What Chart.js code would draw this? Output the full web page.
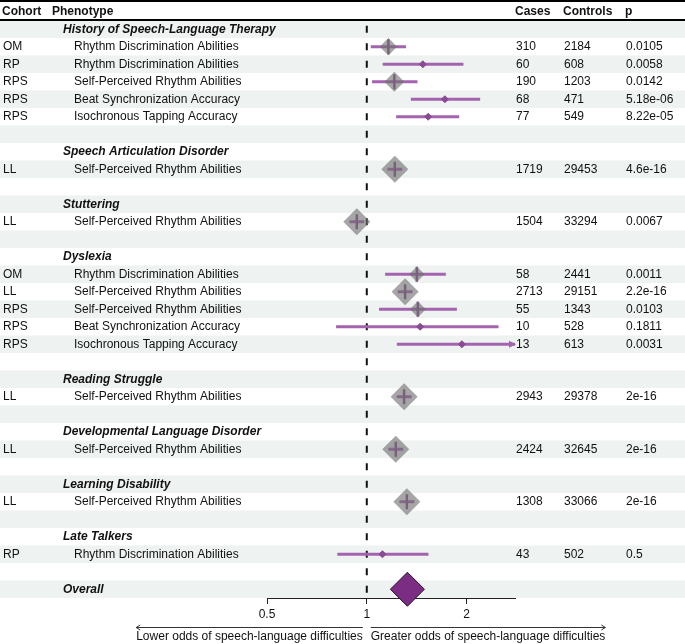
<!DOCTYPE html>
<html><head><meta charset="utf-8">
<script src="https://cdn.jsdelivr.net/npm/chart.js@4.4.1/dist/chart.umd.min.js"></script>
<style>html,body{margin:0;padding:0;background:#fff}canvas{display:block}</style>
</head><body>
<canvas id="c" width="685" height="644"></canvas>
<script>
// ---- data ----
const headers = ["Cohort", "Phenotype", "Cases", "Controls", "p"];
const cohorts = ["","OM","RP","RPS","RPS","RPS","","","LL","","","LL","","","OM","LL","RPS","RPS","RPS","","","LL","","","LL","","","LL","","","RP","",""];
const labels = ["History of Speech-Language Therapy","Rhythm Discrimination Abilities","Rhythm Discrimination Abilities","Self-Perceived Rhythm Abilities","Beat Synchronization Accuracy","Isochronous Tapping Accuracy","",
  "Speech Articulation Disorder","Self-Perceived Rhythm Abilities","",
  "Stuttering","Self-Perceived Rhythm Abilities","",
  "Dyslexia","Rhythm Discrimination Abilities","Self-Perceived Rhythm Abilities","Self-Perceived Rhythm Abilities","Beat Synchronization Accuracy","Isochronous Tapping Accuracy","",
  "Reading Struggle","Self-Perceived Rhythm Abilities","",
  "Developmental Language Disorder","Self-Perceived Rhythm Abilities","",
  "Learning Disability","Self-Perceived Rhythm Abilities","",
  "Late Talkers","Rhythm Discrimination Abilities","",
  "Overall"];
const oddsRatio = [null,1.162,1.476,1.211,1.72,1.532,null,null,1.215,null,null,0.933,null,null,1.416,1.305,1.426,1.449,1.936,null,null,1.296,null,null,1.223,null,null,1.321,null,null,1.115,null,null];
const ciLower   = [null,1.028,1.117,1.037,1.358,1.226,null,null,1.154,null,null,0.886,null,null,1.136,1.24,1.089,0.808,1.232,null,null,1.231,null,null,1.162,null,null,1.255,null,null,0.815,null,null];
const ciUpper   = [null,1.314,1.957,1.422,2.198,1.90,null,null,1.279,null,null,0.982,null,null,1.732,1.374,1.87,2.497,3.2,null,null,1.365,null,null,1.288,null,null,1.391,null,null,1.535,null,null];
const boxWeight = [null,0.64,0,0.74,0,0,null,null,1,null,null,1,null,null,0.57,1,0.59,0,0,null,null,1,null,null,1,null,null,1,null,null,0,null,null];
const cases     = [null,310,60,190,68,77,null,null,1719,null,null,1504,null,null,58,2713,55,10,13,null,null,2943,null,null,2424,null,null,1308,null,null,43,null,null];
const controls  = [null,2184,608,1203,471,549,null,null,29453,null,null,33294,null,null,2441,29151,1343,528,613,null,null,29378,null,null,32645,null,null,33066,null,null,502,null,null];
const pValues   = ["","0.0105","0.0058","0.0142","5.18e-06","8.22e-05","","","4.6e-16","","","0.0067","","","0.0011","2.2e-16","0.0103","0.1811","0.0031","","","2e-16","","","2e-16","","","2e-16","","","0.5","",""];
const overallOR = 1.326;
const overallRow = 32;
const tickValues = [0.5, 1, 2];
const tickLabels = ["0.5", "1", "2"];
const xMin = 0.5, xMax = 2.8;
const lowerLabel = "Lower odds of speech-language difficulties";
const upperLabel = "Greater odds of speech-language difficulties";

// ---- styles ----
const FONT = '"Liberation Sans", Arial, Helvetica, sans-serif';
const TXT = '#111';
const BAND = '#EEF2F1';
const CI_COLOR = '#A463AE';
const PT_COLOR = '#8A4A94';
const BOX_COLOR = 'rgba(112,112,112,0.62)';
const MAX_BOX = 13.5;

const rows = labels.map((_, i) => i);
const dataRows = rows.filter(i => oddsRatio[i] != null);

const ciSets = dataRows.map(i => ({
  type: 'line',
  data: [{x: ciLower[i], y: i}, {x: ciUpper[i], y: i}],
  borderColor: CI_COLOR, borderWidth: 3, borderCapStyle: 'butt',
  pointRadius: 0, showLine: true, order: 3
}));

const wOf = ctx => (ctx.raw && ctx.raw.w) ? ctx.raw.w : 0;

const datasets = [
  {
    type: 'scatter',
    data: dataRows.filter(i => boxWeight[i] > 0).map(i => ({x: oddsRatio[i], y: i, w: boxWeight[i]})),
    pointStyle: 'rectRot',
    pointRadius: ctx => MAX_BOX * wOf(ctx),
    backgroundColor: BOX_COLOR, borderWidth: 0, order: 0, clip: false
  },
  {
    type: 'scatter',
    data: [{x: overallOR, y: overallRow}],
    pointStyle: 'rectRot', pointRadius: 17,
    backgroundColor: '#7B2C83', borderColor: '#2a0d2d', borderWidth: 1, order: 0, clip: false
  },
  {
    type: 'scatter',
    data: dataRows.map(i => ({x: oddsRatio[i], y: i, w: boxWeight[i]})),
    pointStyle: ctx => wOf(ctx) > 0 ? 'line' : 'rectRot',
    rotation: ctx => wOf(ctx) > 0 ? 90 : 0,
    pointRadius: ctx => wOf(ctx) > 0 ? 7.5 : 3.5,
    borderWidth: ctx => wOf(ctx) > 0 ? 2.5 : 1,
    borderColor: PT_COLOR, backgroundColor: PT_COLOR, order: 1, clip: false
  },
  ...ciSets
];

const decor = {
  id: 'decor',
  beforeDraw(chart) {
    const {ctx, scales: {y}} = chart;
    ctx.save();
    ctx.fillStyle = '#fff';
    ctx.fillRect(0, 0, chart.width, chart.height);
    ctx.fillStyle = BAND;
    rows.forEach(i => {
      if (i % 2 === 0) {
        const t = y.getPixelForValue(i - 0.5), b = y.getPixelForValue(i + 0.5);
        ctx.fillRect(0, t, chart.width, b - t);
      }
    });
    ctx.fillStyle = '#000';
    ctx.fillRect(0, 0, chart.width, 2);
    ctx.fillRect(0, 19, chart.width, 2);
    // header
    ctx.fillStyle = TXT;
    ctx.font = 'bold 12px ' + FONT;
    ctx.textBaseline = 'middle';
    const hx = [2, 52, 515, 563, 625];
    headers.forEach((h, k) => ctx.fillText(h, hx[k], 11.5));
    ctx.restore();
  },
  beforeDatasetsDraw(chart) {
    const {ctx, chartArea, scales: {x, y}} = chart;
    const rh = y.getPixelForValue(0.5) - y.getPixelForValue(-0.5);
    const px = x.getPixelForValue(1);
    ctx.save();
    ctx.strokeStyle = '#111';
    ctx.lineWidth = 2;
    ctx.setLineDash([7, rh - 7]);
    ctx.lineDashOffset = rh - (rh - 7) / 2;
    ctx.beginPath();
    ctx.moveTo(px, chartArea.top);
    ctx.lineTo(px, chartArea.bottom);
    ctx.stroke();
    ctx.restore();
  },
  afterDraw(chart) {
    const {ctx, chartArea, scales: {x, y}} = chart;
    ctx.save();
    ctx.textBaseline = 'middle';
    ctx.fillStyle = TXT;
    rows.forEach(i => {
      const py = y.getPixelForValue(i);
      const heading = labels[i] && !cohorts[i];
      if (heading) {
        ctx.font = 'italic bold 12px ' + FONT;
        ctx.fillText(labels[i], 63, py);
      } else if (labels[i]) {
        ctx.font = '12px ' + FONT;
        ctx.fillText(cohorts[i], 3, py);
        ctx.fillText(labels[i], 74, py);
        ctx.fillText(String(cases[i]), 516, py);
        ctx.fillText(String(controls[i]), 564, py);
        ctx.fillText(pValues[i], 626, py);
      }
    });
    // truncated CI arrowheads
    ctx.fillStyle = CI_COLOR;
    dataRows.forEach(i => {
      if (ciUpper[i] > xMax) {
        const py = y.getPixelForValue(i), r = chartArea.right;
        ctx.beginPath();
        ctx.moveTo(r + 1, py);
        ctx.lineTo(r - 6, py - 3.5);
        ctx.lineTo(r - 6, py + 3.5);
        ctx.closePath();
        ctx.fill();
      }
    });
    // direction arrows
    const px = x.getPixelForValue(1);
    ctx.font = '12px ' + FONT;
    ctx.fillStyle = TXT;
    const wl = ctx.measureText(lowerLabel).width, wu = ctx.measureText(upperLabel).width;
    const ly = 637, ay = 627.5;
    const lR = px - 4, lL = lR - wl, uL = px + 4, uR = uL + wu;
    ctx.textAlign = 'left';
    ctx.fillText(lowerLabel, lL, ly);
    ctx.fillText(upperLabel, uL, ly);
    ctx.strokeStyle = '#333';
    ctx.lineWidth = 1;
    ctx.beginPath();
    ctx.moveTo(lL, ay); ctx.lineTo(lR, ay);
    ctx.moveTo(lL + 4, ay - 2.5); ctx.lineTo(lL, ay); ctx.lineTo(lL + 4, ay + 2.5);
    ctx.moveTo(uL, ay); ctx.lineTo(uR, ay);
    ctx.moveTo(uR - 4, ay - 2.5); ctx.lineTo(uR, ay); ctx.lineTo(uR - 4, ay + 2.5);
    ctx.stroke();
    ctx.restore();
  }
};

new Chart(document.getElementById('c'), {
  type: 'scatter',
  data: { datasets },
  options: {
    responsive: false,
    animation: false,
    events: [],
    layout: { padding: { left: 267, right: 170, top: 20.5, bottom: 0 } },
    plugins: { legend: { display: false }, tooltip: { enabled: false } },
    scales: {
      x: {
        type: 'logarithmic', min: xMin, max: xMax,
        afterBuildTicks: s => { s.ticks = tickValues.map(v => ({ value: v })); },
        afterFit: s => { s.height = 46; },
        ticks: { callback: (v, i) => tickLabels[i], font: { family: FONT, size: 12 }, color: TXT, padding: 3, autoSkip: false, maxRotation: 0 },
        grid: { drawOnChartArea: false, drawTicks: true, tickLength: 6, color: '#222', lineWidth: 1 },
        border: { display: true, color: '#222', width: 1 }
      },
      y: { type: 'linear', min: -0.5, max: 32.5, reverse: true, display: false }
    }
  },
  plugins: [decor]
});
</script>
</body></html>
